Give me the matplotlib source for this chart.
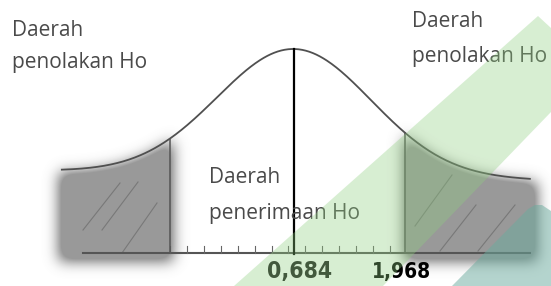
import numpy as np
import matplotlib
matplotlib.use('Agg')
import matplotlib.pyplot as plt
from matplotlib.patches import Polygon

# values shown on the sketch
crit = [-1.968, 1.968]          # critical values (only the right one is labelled)
stat_label = '0,684'
crit_label = '1,968'
region_top = ['Daerah', 'penolakan Ho']
region_mid = ['Daerah', 'penerimaan Ho']

# shape of the drawn bell (sketch, not to scale)
mu = 0.11
sigma = 1.29
z_left, z_right = -3.78, 4.06      # ends of the curve
base_left = -3.43                  # start of the axis line
tail_left, tail_right = 82, 73     # height of the flat tails above the axis
peak = 204
tick_step = 0.2835
n_ticks = 14

W, H = 551, 286
PX = 59.7          # pixels per z unit
X0 = 287.5         # pixel of z = 0
Y0 = 253           # pixel row of the axis line


def tail(z):
    return tail_left + (tail_right - tail_left) * (z - z_left) / (z_right - z_left)


def bell(z):
    amp = peak - tail(mu)
    return tail(z) + amp * np.exp(-(z - mu) ** 2 / (2 * sigma ** 2))


def px(x, y):
    # picture pixel -> data coords (for decorations only)
    return (x - X0) / PX, Y0 - y


fig = plt.figure(figsize=(W / 100, H / 100), dpi=100)
ax = fig.add_axes([0, 0, 1, 1])
ax.set_xlim(-X0 / PX, (W - X0) / PX)
ax.set_ylim(Y0 - H, Y0)
ax.axis('off')

# smudged grey tails
zz = np.linspace(-X0 / PX, (W - X0) / PX, W)
yy = np.linspace(Y0 - H, Y0, H)
Z, Y = np.meshgrid(zz, yy)
m = (Y >= -8) & (Y <= bell(Z) - 3) & (
    ((Z >= z_left - 0.05) & (Z <= crit[0] + 0.05)) |
    ((Z >= crit[1] - 0.02) & (Z <= z_right + 0.12)))
m = m.astype(float)
k = np.exp(-np.arange(-21, 22) ** 2 / (2 * 7.0 ** 2))
k /= k.sum()
m = np.apply_along_axis(lambda r: np.convolve(r, k, mode='same'), 1, m)
m = np.apply_along_axis(lambda c: np.convolve(c, k, mode='same'), 0, m)
m = np.clip(m * 1.6, 0, 1)
img = np.zeros((H, W, 4))
img[..., :3] = 0.46
img[..., 3] = m * 0.74
ax.imshow(img, extent=[zz[0], zz[-1], yy[0], yy[-1]], origin='lower',
          aspect='auto', interpolation='bilinear', zorder=1)

# hatch strokes in the tails
hatch = [((83, 230), (120, 183)), ((102, 230), (138, 182)), ((122, 253), (157, 203)),
         ((415, 226), (452, 175)), ((440, 251), (476, 205)), ((478, 251), (515, 205))]
for a, b in hatch:
    (x1, y1), (x2, y2) = px(*a), px(*b)
    ax.plot([x1, x2], [y1, y2], color='#707070', lw=0.8, alpha=0.8, zorder=2)

# bell curve
z = np.linspace(z_left, z_right, 400)
ax.plot(z, bell(z), color='#505050', lw=1.3, zorder=3)

# axis line and ticks
ax.plot([base_left, z_right], [0, 0], color='#555555', lw=1.5, zorder=3)
for i in range(n_ticks):
    t = crit[0] + i * tick_step
    ax.plot([t, t], [0, 7], color='#666666', lw=0.8, zorder=3)

# critical value lines
for c in crit:
    ax.plot([c, c], [0, bell(c)], color='#555555', lw=1.1, zorder=3)

# statistic line
ax.plot([mu, mu], [-1, bell(mu)], color='black', lw=1.6, zorder=4)

# labels
ax.annotate(stat_label, (mu, 0), xytext=(5, -7), textcoords='offset pixels',
            ha='center', va='top', fontsize=16.5, fontweight='bold',
            family='DejaVu Sans', fontstretch='condensed', color='#1a1a1a', zorder=4)
ax.annotate(crit_label, (crit[1], 0), xytext=(-3, -9), textcoords='offset pixels',
            ha='center', va='top', fontsize=15, fontweight='bold',
            family='DejaVu Sans', fontstretch='condensed', color='black', zorder=4)

txt = dict(fontsize=15, family=['Open Sans', 'DejaVu Sans'], color='#4a4a4a',
           va='baseline', zorder=4)
fig.text(12 / W, 1 - 36 / H, region_top[0], **txt)
fig.text(12 / W, 1 - 68 / H, region_top[1], **txt)
fig.text(412 / W, 1 - 27 / H, region_top[0], **txt)
fig.text(412 / W, 1 - 62 / H, region_top[1], **txt)
fig.text(209 / W, 1 - 183 / H, region_mid[0], **txt)
fig.text(209 / W, 1 - 219 / H, region_mid[1], **txt)

# watermark bands on top
ov = fig.add_axes([0, 0, 1, 1], zorder=10)
ov.set_xlim(0, W)
ov.set_ylim(H, 0)
ov.axis('off')
ov.patch.set_alpha(0)
ov.add_patch(Polygon([(234, 286), (538, 16), (551, 28), (551, 112), (383, 286)],
                     closed=True, facecolor=(0.56, 0.81, 0.50), alpha=0.35, lw=0))
ov.add_patch(Polygon([(452, 286), (528, 209), (535, 205), (542, 205), (551, 211), (551, 286)],
                     closed=True, facecolor=(0.42, 0.67, 0.62), alpha=0.5, lw=0))

fig.savefig('out.png', dpi=100)
